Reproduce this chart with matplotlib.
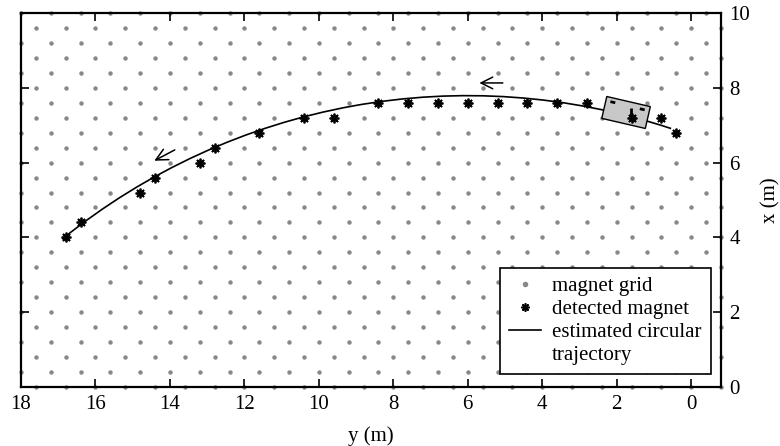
import numpy as np
import matplotlib
matplotlib.use('Agg')
import matplotlib.pyplot as plt
from matplotlib.patches import Arc, Rectangle
from matplotlib.lines import Line2D

plt.rcParams['font.family'] = ['Liberation Serif', 'DejaVu Serif']

# magnet grid: staggered lattice, 0.4 m between rows, 0.8 m within a row
grid_step = 0.4
grid_y_min, grid_y_max = -0.8, 18.0
grid_x_min, grid_x_max = 0.0, 10.0

# detected magnets (horizontal axis is y, vertical axis is x)
detected_y = [16.8, 16.4, 14.8, 14.4, 13.2, 12.8, 11.6, 10.4, 9.6, 8.4, 7.6,
              6.8, 6.0, 5.2, 4.4, 3.6, 2.8, 1.6, 0.8, 0.4]
detected_x = [4.0, 4.4, 5.2, 5.6, 6.0, 6.4, 6.8, 7.2, 7.2, 7.6, 7.6,
              7.6, 7.6, 7.6, 7.6, 7.6, 7.6, 7.2, 7.2, 6.8]

# estimated circle (centre, radius, start / end angle in degrees)
circle_center = (6.0, -9.6)
circle_radius = 17.39
circle_theta = (51.2, 108.3)

# vehicle outline
car_center = (1.75, 7.34)
car_size = (1.2, 0.6)
car_angle = 13.0
car_marks_y = [(2.17, 2.04), (1.38, 1.25), (1.63, 1.63)]
car_marks_x = [(7.63, 7.60), (7.44, 7.41), (7.20, 7.47)]

# direction arrows (tail -> head)
arrow_tails = [(5.06, 8.13), (13.87, 6.34)]
arrow_heads = [(5.69, 8.13), (14.42, 6.05)]

fig = plt.figure(figsize=(7.8, 4.46), dpi=100)
ax = fig.add_axes([21 / 780, 1 - 387 / 446, 700 / 780, 374 / 446])

# grid of magnets
gx, gy = [], []
rows = np.arange(grid_x_min, grid_x_max + 1e-6, grid_step)
for k, xr in enumerate(rows):
    start = grid_y_max - grid_step if k % 2 == 0 else grid_y_max
    cols = np.arange(start, grid_y_min - 1e-6, -2 * grid_step)
    gy.extend(cols)
    gx.extend([xr] * len(cols))
ax.plot(gy, gx, 'o', color='#888888', markersize=3.2, markeredgewidth=0,
        clip_on=False, zorder=1)

ax.set_xlim(18, -0.8)
ax.set_ylim(0, 10)

arc = Arc(circle_center, 2 * circle_radius, 2 * circle_radius,
          theta1=circle_theta[0], theta2=circle_theta[1],
          color='black', lw=1.2, zorder=2)
ax.add_patch(arc)

car = Rectangle((car_center[0] - car_size[0] / 2, car_center[1] - car_size[1] / 2),
                car_size[0], car_size[1], angle=car_angle, rotation_point='center',
                facecolor='#c8c8c8', edgecolor='black', lw=1.0, zorder=3)
ax.add_patch(car)
for my, mx in zip(car_marks_y, car_marks_x):
    ax.plot(my, mx, color='black', lw=2, solid_capstyle='butt', zorder=4)

ax.plot(detected_y, detected_x, linestyle='none', marker=(8, 2, 0),
        color='black', markersize=7, markeredgewidth=1.3, zorder=5)

for t, h in zip(arrow_tails, arrow_heads):
    ax.annotate('', xy=h, xytext=t,
                arrowprops=dict(arrowstyle='->', lw=1.1, color='black',
                                mutation_scale=21, shrinkA=0, shrinkB=0))

ax.set_xticks(np.arange(0, 19, 2))
ax.set_yticks(np.arange(0, 11, 2))
ax.yaxis.set_label_position('right')
ax.tick_params(direction='in', length=6, width=1.2, top=True, bottom=True,
               left=True, right=True, labelleft=False, labelright=True,
               labelsize=15, pad=6)
for s in ax.spines.values():
    s.set_linewidth(1.6)
ax.set_xlabel('y (m)', fontsize=15, labelpad=8.5)
ax.set_ylabel('x (m)', fontsize=15, labelpad=8)

# the second line of the last label is its own (handle-less) entry
handles = [
    Line2D([], [], linestyle='none', marker='o', color='#888888',
           markersize=4, markeredgewidth=0),
    Line2D([], [], linestyle='none', marker=(8, 2, 0), color='black',
           markersize=6, markeredgewidth=1.2),
    Line2D([], [], color='black', lw=1.2),
    Line2D([], [], linestyle='none'),
]
labels = ['magnet grid', 'detected magnet', 'estimated circular', 'trajectory']
leg = ax.legend(handles, labels, loc='lower right',
                bbox_to_anchor=(690 / 700, 13 / 374), borderaxespad=0,
                fontsize=15, frameon=True, fancybox=False, framealpha=1,
                edgecolor='black', handlelength=1.5, handletextpad=0.55,
                labelspacing=0.15, borderpad=0.45)
leg.get_frame().set_linewidth(1.2)

fig.savefig('out.png', dpi=100)
